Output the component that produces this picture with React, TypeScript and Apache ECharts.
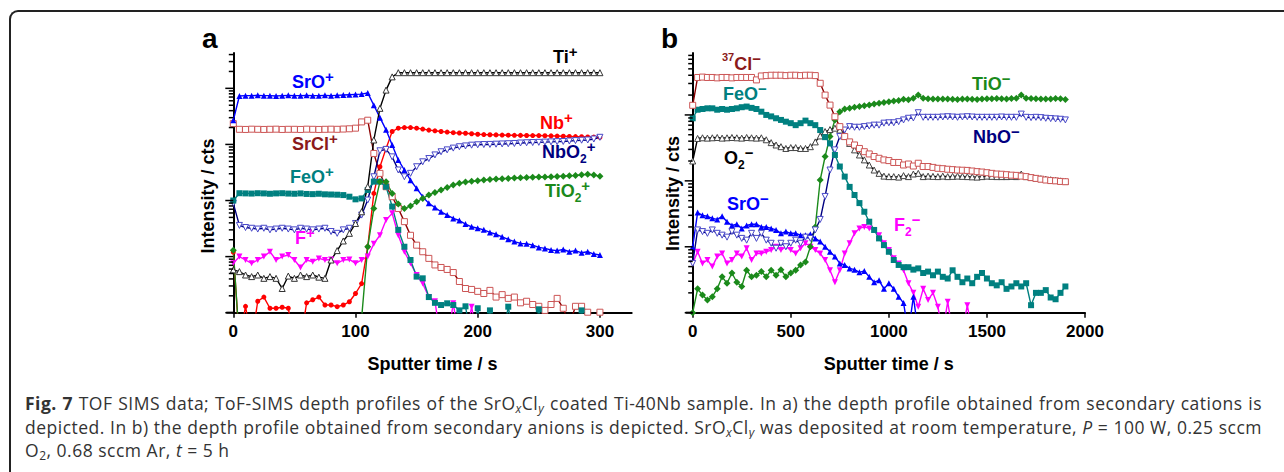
import React, { useEffect, useRef } from 'react';
import * as echarts from 'echarts';

// ---------------- DATA ----------------
const TIME_A = [0,5,10,15,20,25,30,35,40,45,50,55,60,65,70,75,80,85,90,95,100,105,110,115,120,125,130,135,140,145,150,155,160,165,170,175,180,185,190,195,200,205,210,215,220,225,230,235,240,245,250,255,260,265,270,275,280,285,290,295,300];

const TI_P = [5.8,5.4,4.7,4.4,4.7,4.1,4.4,4.1,2.7,4.5,4.1,4.7,4.4,4.7,4.3,4.1,8.7,12.8,19,26,39,63,177,1200,4400,9300,16000,
  19000,19000,19000,19000,19000,19000,19000,19000,19000,19000,19000,19000,19000,19000,19000,19000,19000,19000,19000,19000,19000,19000,19000,19000,19000,19000,19000,19000,19000,19000,19000,19000,19000,19000,19000];
const SRO_P = [2700,7300,7400,7400,7500,7400,7400,7300,7400,7500,7400,7400,7500,7400,7400,7500,7400,7500,7600,7700,7800,
  7900,8300,5000,3000,1820,980,530,350,230,165,117,89,75,63,55,48,44,38,34,32,30,27,25,22.5,20.3,18.5,17.2,17,16,14.6,14,13.1,12.8,13.4,12.2,12.8,11.7,12.2,11.1,10.7];
const NB_P = [12,0.3,1.3,0.3,1.6,1.9,1.2,1.2,1.25,1.2,0.3,0.3,1.5,1.7,1.9,1.37,1.37,1.28,1.37,1.57,2.2,3.3,15,134,400,850,1700,
  1950,2000,2000,1950,1880,1800,1750,1700,1660,1620,1600,1580,1550,1520,1500,1490,1480,1470,1460,1455,1450,1445,1440,1440,1430,1420,1410,1400,1390,1380,1370,1360,1350,1340];
const SRCL_P = [2350,1860,1850,1870,1860,1850,1860,1870,1850,1860,1860,1850,1870,1860,1850,1860,1870,1860,1880,1900,1950,
  2520,2700,690,305,176,117,72,42,24,16,12.2,9.3,7.1,6.4,5.9,5.2,3.6,2.7,2.6,2.4,2.2,2.5,1.9,2.1,1.8,1.9,1.5,1.6,1.4,1.3,1.1,1.4,1.8,1.2,0.6,1.3,1.3,1.02,0.6,1.02];
const NBO2_P = [89,36,33,32,31,32,30,31,32,31,30,32,31,30,31,32,
  28,26,30,32,39,55,102,265,770,815,600,350,265,305,400,490,560,650,740,800,860,910,940,970,985,995,1000,1010,1020,1030,1040,1060,1070,1080,1090,1100,1110,1120,1130,1150,1170,1190,1200,1250,1340];
const FEO_P = [100,135,134,133,135,134,132,134,135,133,132,134,131,130,132,129,128,127,125,
  117,105,109,154,217,217,176,78,30,15,8.7,4.4,4.1,1.9,1.5,1.37,1.47,1.37,1.1,1.3,0.3,1.2,0.3,1.1,0.3,0.3,1.28,0.3,0.3,0.3,0.3,1.15,0.3,0.3,0.3,0.3,0.3,0.3,1.1,0.3,0.3,0.3];
const TIO2_P = [13,0.3,0.3,0.3,0.3,0.3,0.3,0.3,0.3,0.3,0.3,0.3,0.3,0.3,0.3,0.3,0.3,0.3,0.3,0.3,0.3,
  0.8,15,72,217,217,134,87,72,80,95,109,126,139,154,171,189,203,214,220,225,232,238,241,244,248,252,255,258,260,262,263,265,268,272,276,280,287,294,285,272];
const F_P = [7.6,10,8.7,7.6,8.7,10,12.2,8.7,10,10.7,8.7,6.4,8.7,8.1,9.3,8.7,8.9,7.6,8.7,8.9,7.6,8.7,10,17,24,45,59,24,12.2,7.6,
  4.7,3.3,1.9,1.6,0.3,0.3,1.47,0.3,0.3,1.28,0.3,
  null,null,null,null,null,null,null,null,null,null,null,null,null,null,null,null,null,null,null,null];

const TIME_B = [0,25,50,75,100,125,150,175,200,225,250,275,300,325,350,375,400,425,450,475,500,525,550,575,600,625,650,675,700,725,750,775,800,825,850,875,900,925,950,975,1000,1025,1050,1075,1100,1125,1150,1175,1200,1225,1250,1275,1300,1325,1350,1375,1400,1425,1450,1475,1500,1525,1550,1575,1600,1625,1650,1675,1700,1725,1750,1775,1800,1825,1850,1875,1900];

const CL_N = [1400,3700,3750,3700,3700,3650,3700,3700,3650,3700,3700,3700,3700,3400,3900,3950,4000,4000,4000,3950,4000,4000,3950,4000,4000,3950,
  3020,2000,1410,940,665,470,390,350,310,277,256,234,220,208,203,190,190,174,180,168,185,165,165,160,155,153,150,148,146,145,144,141,138,136,133,130,127,126,124,122,121,118,116,112,109,106,103,101,100,98,97];
const FEO_N = [890,1200,1230,1260,1260,1200,1230,1200,1230,1260,
  1310,1340,1280,1230,1120,1000,950,890,840,790,
  750,700,750,820,750,700,590,460,370,247,
  165,116,81,61,46,34,24,18,13.4,10.6,
  8.4,6.3,5.3,4.9,4.9,4.5,4.7,4.0,4.2,3.7,
  4.2,3.5,3.3,4.4,3.5,2.9,3.3,2.8,3.5,4.0,
  3.3,2.8,2.6,2.9,2.3,2.5,2.8,2.5,2.8,1.3,
  2.0,2.0,2.2,1.7,1.6,2.0,2.5];
const TIO_N = [1.0,2.3,1.85,1.56,1.75,2.3,3.5,2.8,4.0,2.9,
  2.5,4.4,3.5,3.7,4.2,3.5,4.4,3.7,4.5,3.5,
  4.0,4.4,5.3,5.9,10,20,103,234,470,840,
  1120,1230,1260,1310,1340,1380,1420,1470,1510,1540,
  1590,1630,1650,1730,1700,1790,2000,1790,1760,1750,
  1740,1750,1740,1730,1720,1740,1740,1730,1720,1740,
  1760,1760,1770,1760,1740,1770,1790,2000,1790,1780,
  1760,1750,1740,1750,1770,1760,1720];
const NBO_N = [5.6,18,17,16,18,16,15,14,17,15,
  13.4,12.6,16,13.4,16,12.6,11.3,9.5,11.3,10,
  11.3,12.6,11.3,14,13.4,18,26,58,146,295,
  470,590,665,650,650,665,680,700,700,750,
  760,760,790,840,890,900,1080,920,920,920,
  920,930,940,930,920,930,940,930,920,920,
  920,920,920,930,920,920,920,1030,920,910,
  920,910,890,880,870,860,840];
const O2_N = [200,440,450,445,450,455,445,450,455,450,
  445,455,450,445,450,420,380,350,330,310,
  320,320,310,310,330,390,480,560,600,630,
  590,470,370,295,247,208,174,146,130,118,
  116,116,114,120,116,127,130,116,118,117,
  116,118,116,117,118,117,116,115,114,116,
  118,117,116,116,116,117,116,127,116,113,
  110,108,106,104,102,100,98];
const SRO_N = [10,33,30,29,27,26,29,24,21,22,
  19,21,22,22,20,20,19,18,16,17,
  16,16,15,15,15.5,13.4,12,10,8.4,7.1,
  5.6,5.3,4.7,4.5,4.1,4.3,3.5,2.9,3.1,2.3,
  2.8,2.3,1.75,1.4,0.5,1.75,0.5,
  null,null,null,null,null,null,null,null,null,null,null,null,null,null,null,null,null,null,null,null,null,null,null,null,null,null,null,null,null,null];
const F2_N = [5.6,8.4,5.6,6.3,5.0,7.1,7.9,5.6,6.3,7.9,
  7.1,9.5,6.3,7.9,7.9,8.4,8.9,10,8.9,10,
  8.9,7.9,9.5,11.3,10,8.9,7.9,6.3,4.4,2.9,
  4.4,7.9,11.3,16,19,20,19,18,15,11.3,
  8.9,6.7,5.6,4.4,2.8,2.0,1.23,2.3,1.56,2.0,
  1.23,0.5,1.47,0.5,null,0.5,1.3,0.5,
  null,null,null,null,null,null,null,null,null,null,null,null,null,null,null,null,null,null,null];

const X_TICKS_A = [0, 100, 200, 300];
const X_TICKS_B = [0, 500, 1000, 1500, 2000];
const Y_DECADES_A = [1, 10, 100, 1000, 10000];
const Y_DECADES_B = [1, 10, 100, 1000];
const Y_MAX_A = 42660;
const Y_MAX_B = 8700;

// ---------------- STYLE ----------------
const FONT = 'Arial, "Liberation Sans", Helvetica, sans-serif';
const C = {
  black: '#000000', sro: '#0000FF', nb: '#FF0000', srclLine: '#8B0000', srclMark: '#CC5555', srclText: '#8B1A1A',
  nboLine: '#000080', nboMark: '#4848C8', feo: '#008080', tio: '#1B8A1B', f: '#FF00FF'
};

function pairs(times: number[], vals: (number | null)[]) {
  return times.map((t, i) => [t, vals[i] == null ? null : vals[i]]);
}

function lineSeries(gi: number, name: string, times: number[], vals: (number | null)[], o: any) {
  return {
    type: 'line', name, xAxisIndex: gi, yAxisIndex: gi, data: pairs(times, vals),
    symbol: o.symbol, symbolSize: o.size ?? 6, symbolRotate: o.rotate ?? 0, showSymbol: true,
    lineStyle: { color: o.line, width: 1.4 },
    itemStyle: { color: o.fill, borderColor: o.border ?? o.fill, borderWidth: o.bw ?? 0 },
    clip: true, connectNulls: false, z: o.z ?? 3, silent: true, animation: false,
  };
}

function tickData(decades: number[], max: number) {
  const d: number[][] = [];
  decades.forEach((dec) => {
    d.push([0, dec, 1]);
    for (let k = 2; k <= 9; k++) if (k * dec < max) d.push([0, k * dec, 0]);
  });
  d.push([0, 1, 2]);
  return d;
}

const tickRender = (params: any, api: any) => {
  const v = api.value(1);
  const kind = api.value(2);
  const p = api.coord([0, v]);
  if (kind === 2) {
    return { type: 'line', shape: { x1: p[0] - 7, y1: p[1], x2: p[0], y2: p[1] }, style: { stroke: '#000', lineWidth: 2 } };
  }
  const len = kind === 1 ? 8 : 4.5;
  return { type: 'line', shape: { x1: p[0] - len, y1: p[1], x2: p[0], y2: p[1] }, style: { stroke: '#000', lineWidth: 1.5 } };
};

const RICH = (color: string) => ({
  n: { fontSize: 18, fontWeight: 'bold', fontFamily: FONT, fill: color, color, lineHeight: 26, verticalAlign: 'middle' },
  sup: { fontSize: 15, fontWeight: 'bold', fontFamily: FONT, fill: color, color, lineHeight: 15, verticalAlign: 'top' },
  sups: { fontSize: 11, fontWeight: 'bold', fontFamily: FONT, fill: color, color, lineHeight: 13, verticalAlign: 'top' },
  sub: { fontSize: 12, fontWeight: 'bold', fontFamily: FONT, fill: color, color, lineHeight: 12, verticalAlign: 'bottom' },
});

const LABELS = [
  { x: 553, y: 57, c: C.black, t: '{n|Ti}{sup|+}' },
  { x: 292, y: 81.5, c: C.sro, t: '{n|SrO}{sup|+}' },
  { x: 540, y: 123, c: C.nb, t: '{n|Nb}{sup|+}' },
  { x: 292, y: 144, c: C.srclText, t: '{n|SrCl}{sup|+}' },
  { x: 542, y: 152, c: C.nboLine, t: '{n|NbO}{sub|2}{sup|+}' },
  { x: 290, y: 177, c: C.feo, t: '{n|FeO}{sup|+}' },
  { x: 545, y: 191, c: C.tio, t: '{n|TiO}{sub|2}{sup|+}' },
  { x: 295, y: 237.5, c: C.f, t: '{n|F}{sup|+}' },
  { x: 722, y: 64, c: C.srclText, t: '{sups|37}{n|Cl}{sup|−}' },
  { x: 723, y: 93.5, c: C.feo, t: '{n|FeO}{sup|−}' },
  { x: 972, y: 83.5, c: C.tio, t: '{n|TiO}{sup|−}' },
  { x: 724, y: 157.5, c: C.black, t: '{n|O}{sub|2}{sup|−}' },
  { x: 973, y: 137, c: C.nboLine, t: '{n|NbO}{sup|−}' },
  { x: 727, y: 203.5, c: C.sro, t: '{n|SrO}{sup|−}' },
  { x: 894, y: 225, c: C.f, t: '{n|F}{sub|2}{sup|−}' },
];

function buildOption() {
  const axisLine = { show: true, onZero: false, lineStyle: { color: '#000', width: 2 } };
  const xAxisCommon = (min: number, max: number, interval: number, ticks: number[], gi: number) => ({
    type: 'value', gridIndex: gi, min, max, interval,
    axisLine, splitLine: { show: false },
    axisTick: { show: true, length: 5, inside: false, lineStyle: { color: '#000', width: 1.5 }, customValues: ticks },
    axisLabel: { show: true, customValues: ticks, showMaxLabel: true, fontSize: 17, fontWeight: 'bold', color: '#000', fontFamily: FONT, margin: 10, formatter: (v: number) => String(v) },
    name: 'Sputter time / s', nameLocation: 'middle', nameGap: 42,
    nameTextStyle: { fontSize: 18, fontWeight: 'bold', color: '#000', fontFamily: FONT },
  });
  const yAxisCommon = (max: number, gi: number) => ({
    type: 'log', logBase: 10, gridIndex: gi, min: 1, max,
    axisLine: { show: true, onZero: false, lineStyle: { color: '#000', width: 2 } },
    axisTick: { show: false }, axisLabel: { show: false }, splitLine: { show: false }, minorTick: { show: false },
  });

  const series: any[] = [
    { type: 'custom', xAxisIndex: 0, yAxisIndex: 0, data: tickData(Y_DECADES_A, Y_MAX_A), renderItem: tickRender, silent: true, z: 10 },
    { type: 'custom', xAxisIndex: 1, yAxisIndex: 1, data: tickData(Y_DECADES_B, Y_MAX_B), renderItem: tickRender, silent: true, z: 10 },
    // panel a
    lineSeries(0, 'F+', TIME_A, F_P, { symbol: 'triangle', rotate: 180, line: C.f, fill: C.f }),
    lineSeries(0, 'Nb+', TIME_A, NB_P, { symbol: 'circle', size: 5, line: C.nb, fill: C.nb }),
    lineSeries(0, 'SrCl+', TIME_A, SRCL_P, { symbol: 'rect', line: C.srclLine, fill: '#fff', border: C.srclMark, bw: 1 }),
    lineSeries(0, 'NbO2+', TIME_A, NBO2_P, { symbol: 'triangle', rotate: 180, line: C.nboLine, fill: '#fff', border: C.nboMark, bw: 1 }),
    lineSeries(0, 'SrO+', TIME_A, SRO_P, { symbol: 'triangle', line: C.sro, fill: C.sro }),
    lineSeries(0, 'FeO+', TIME_A, FEO_P, { symbol: 'rect', line: C.feo, fill: C.feo }),
    lineSeries(0, 'TiO2+', TIME_A, TIO2_P, { symbol: 'diamond', size: 7, line: C.tio, fill: C.tio }),
    lineSeries(0, 'Ti+', TIME_A, TI_P, { symbol: 'triangle', line: C.black, fill: '#fff', border: '#333', bw: 1 }),
    // panel b
    lineSeries(1, 'F2-', TIME_B, F2_N, { symbol: 'triangle', rotate: 180, line: C.f, fill: C.f }),
    lineSeries(1, 'TiO-', TIME_B, TIO_N, { symbol: 'diamond', size: 7, line: C.tio, fill: C.tio }),
    lineSeries(1, 'SrO-', TIME_B, SRO_N, { symbol: 'triangle', line: C.sro, fill: C.sro }),
    lineSeries(1, 'O2-', TIME_B, O2_N, { symbol: 'triangle', line: C.black, fill: '#fff', border: '#444', bw: 1 }),
    lineSeries(1, 'NbO-', TIME_B, NBO_N, { symbol: 'triangle', rotate: 180, line: C.nboLine, fill: '#fff', border: C.nboMark, bw: 1 }),
    lineSeries(1, 'FeO-', TIME_B, FEO_N, { symbol: 'rect', line: C.feo, fill: C.feo }),
    lineSeries(1, 'Cl-', TIME_B, CL_N, { symbol: 'rect', line: C.srclLine, fill: '#fff', border: C.srclMark, bw: 1 }),
  ];

  const graphics: any[] = [
    { type: 'text', x: 202, y: 38, style: { text: 'a', fontSize: 28, fontWeight: 'bold', fontFamily: FONT, fill: '#000', align: 'left', verticalAlign: 'middle', textAlign: 'left', textVerticalAlign: 'middle' } },
    { type: 'text', x: 661, y: 38, style: { text: 'b', fontSize: 28, fontWeight: 'bold', fontFamily: FONT, fill: '#000', align: 'left', verticalAlign: 'middle', textAlign: 'left', textVerticalAlign: 'middle' } },
    { type: 'text', x: 208, y: 196, rotation: Math.PI / 2, style: { text: 'Intensity / cts', fontSize: 18, fontWeight: 'bold', fontFamily: FONT, fill: '#000', align: 'center', verticalAlign: 'middle', textAlign: 'center', textVerticalAlign: 'middle' } },
    { type: 'text', x: 672.5, y: 193.5, rotation: Math.PI / 2, style: { text: 'Intensity / cts', fontSize: 18, fontWeight: 'bold', fontFamily: FONT, fill: '#000', align: 'center', verticalAlign: 'middle', textAlign: 'center', textVerticalAlign: 'middle' } },
    ...LABELS.map((l) => ({
      type: 'text', x: l.x, y: l.y, z: 50,
      style: { text: l.t, rich: RICH(l.c), fill: l.c, fontSize: 18, fontWeight: 'bold', fontFamily: FONT, align: 'left', verticalAlign: 'middle', textAlign: 'left', textVerticalAlign: 'middle' },
    })),
  ];

  return {
    animation: false,
    backgroundColor: 'transparent',
    grid: [
      { left: 233.3, top: 53, width: 398.4, height: 259.7, outerBoundsMode: 'none', containLabel: false },
      { left: 692.7, top: 53, width: 392.3, height: 259.7, outerBoundsMode: 'none', containLabel: false },
    ],
    xAxis: [xAxisCommon(0, 326, 100, X_TICKS_A, 0), xAxisCommon(0, 2000, 500, X_TICKS_B, 1)],
    yAxis: [yAxisCommon(Y_MAX_A, 0), yAxisCommon(Y_MAX_B, 1)],
    series,
    graphic: { elements: graphics },
  };
}

export default function App() {
  const ref = useRef<HTMLDivElement>(null);
  useEffect(() => {
    const chart = echarts.init(ref.current!, null, { renderer: 'svg' });
    chart.setOption(buildOption() as any);
    return () => chart.dispose();
  }, []);

  const sub = { fontSize: 12, verticalAlign: '-3px', lineHeight: 0 } as React.CSSProperties;
  const subI = { ...sub, fontStyle: 'italic' } as React.CSSProperties;
  const line = { height: 23.5, lineHeight: '23.5px', whiteSpace: 'nowrap' } as React.CSSProperties;
  const just = { ...line, width: 1237, textAlign: 'justify', textAlignLast: 'justify', whiteSpace: 'normal', overflow: 'hidden' } as React.CSSProperties;

  return (
    <div style={{ position: 'absolute', left: 0, top: 0, width: 1284, height: 472, overflow: 'hidden', background: '#fff' }}>
      <div style={{ position: 'absolute', left: 8.5, top: 9.5, width: 1400, height: 600, borderTop: '2px solid #222', borderLeft: '2px solid #222', borderTopLeftRadius: 9 }} />
      <div ref={ref} style={{ position: 'absolute', left: 0, top: 0, width: 1284, height: 390 }} />
      <div style={{ position: 'absolute', left: 25, top: 392, fontFamily: '"Open Sans", "Noto Sans", sans-serif', fontSize: 17.5, letterSpacing: '0.5px', color: '#333' }}>
        <div style={just}><b>Fig. 7</b> TOF SIMS data; ToF-SIMS depth profiles of the SrO<sub style={subI}>x</sub>Cl<sub style={subI}>y</sub> coated Ti-40Nb sample. In a) the depth profile obtained from secondary cations is</div>
        <div style={just}>depicted. In b) the depth profile obtained from secondary anions is depicted. SrO<sub style={subI}>x</sub>Cl<sub style={subI}>y</sub> was deposited at room temperature, <i>P</i> = 100 W, 0.25 sccm</div>
        <div style={line}>O<sub style={sub}>2</sub>, 0.68 sccm Ar, <i>t</i> = 5 h</div>
      </div>
    </div>
  );
}
